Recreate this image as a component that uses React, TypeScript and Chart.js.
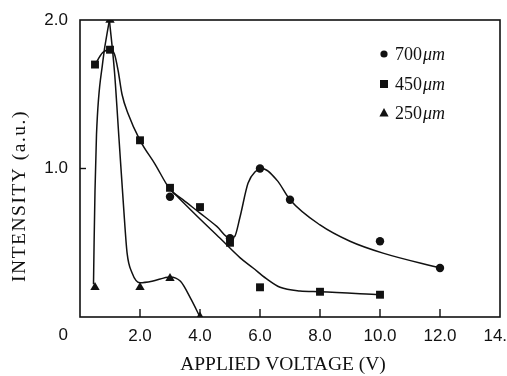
import { useEffect, useRef } from 'react';
import { Chart, registerables } from 'chart.js';

Chart.register(...registerables);

// ---------- data ----------
const xTickValues = [0, 2, 4, 6, 8, 10, 12, 14];
const yTickValues = [0, 1, 2];
const xAxisTitle = 'APPLIED VOLTAGE (V)';
const yAxisTitle = 'INTENSITY (a.u.)';
const seriesThickness = ['700', '450', '250'];
const seriesUnit = 'μm';

const voltage700 = [3, 5, 6, 7, 10, 12];
const intensity700 = [0.81, 0.53, 1.0, 0.79, 0.51, 0.33];

const voltage450 = [0.5, 1, 2, 3, 4, 5, 6, 8, 10];
const intensity450 = [1.7, 1.8, 1.19, 0.87, 0.74, 0.5, 0.2, 0.17, 0.15];

const voltage250 = [0.5, 1, 2, 3, 4];
const intensity250 = [0.2, 2.0, 0.2, 0.26, 0.0];

// hand-drawn guide curves
const guide250RiseX = [0.45, 0.47, 0.5, 0.55, 0.76, 0.98];
const guide250RiseY = [0.22, 0.5, 0.85, 1.23, 1.72, 2.0];
const guide250FallX = [0.98, 1.15, 1.3, 1.45, 1.57, 1.73, 2.0, 2.4, 3.0, 3.35, 3.7, 4.0];
const guide250FallY = [2.0, 1.65, 1.2, 0.75, 0.43, 0.3, 0.23, 0.24, 0.27, 0.24, 0.12, 0.0];

const guideUpperX = [0.5, 0.75, 1.0, 1.15, 1.27, 1.4, 1.6, 2.0, 2.5, 3.0, 3.43, 4.0, 4.56, 5.0, 5.15, 5.33, 5.6, 5.85, 6.07, 6.57, 7.0, 8.0, 9.0, 10.1, 12.0];
const guideUpperY = [1.7, 1.78, 1.8, 1.77, 1.66, 1.5, 1.37, 1.19, 1.03, 0.86, 0.79, 0.7, 0.61, 0.53, 0.54, 0.67, 0.9, 0.98, 1.0, 0.92, 0.79, 0.62, 0.51, 0.43, 0.33];

const guideLowerX = [3.0, 4.0, 4.67, 5.33, 5.77, 6.2, 6.67, 7.33, 8.0, 10.0];
const guideLowerY = [0.86, 0.66, 0.53, 0.4, 0.33, 0.26, 0.2, 0.175, 0.17, 0.15];

const zip = (xs: number[], ys: number[]) => xs.map((x, i) => ({ x, y: ys[i] }));

const SERIF = '"Liberation Serif", "DejaVu Serif", serif';
const SANS = '"Liberation Sans", Arial, sans-serif';

const decorPlugin = {
  id: 'decor',
  beforeDatasetsDraw(chart: any) {
    const { ctx, chartArea: a, scales } = chart;
    const xs = scales.x;
    const ys = scales.y;
    ctx.save();
    ctx.strokeStyle = '#111';
    ctx.lineWidth = 1.6;
    ctx.strokeRect(a.left, a.top, a.right - a.left, a.bottom - a.top);
    ctx.lineWidth = 1.4;
    // inward tick marks
    xTickValues.forEach((v) => {
      if (v === 0 || v === 14) return;
      const px = xs.getPixelForValue(v);
      ctx.beginPath();
      ctx.moveTo(px, a.bottom);
      ctx.lineTo(px, a.bottom - 8);
      ctx.stroke();
    });
    yTickValues.forEach((v) => {
      if (v === 0 || v === 2) return;
      const py = ys.getPixelForValue(v);
      ctx.beginPath();
      ctx.moveTo(a.left, py);
      ctx.lineTo(a.left + 6, py);
      ctx.stroke();
    });
    ctx.restore();
  },
  afterDraw(chart: any) {
    const { ctx, chartArea: a } = chart;
    ctx.save();
    ctx.fillStyle = '#111';
    // corner "0" label
    ctx.font = `17px ${SANS}`;
    ctx.textAlign = 'right';
    ctx.textBaseline = 'middle';
    ctx.fillText('0', a.left - 12, a.bottom + 18);

    // axis titles
    ctx.font = `19.5px ${SERIF}`;
    ctx.textAlign = 'center';
    ctx.textBaseline = 'middle';
    ctx.fillText(xAxisTitle, a.left + 203, a.bottom + 48);

    ctx.save();
    ctx.translate(a.left - 60, a.top + 176);
    ctx.rotate(-Math.PI / 2);
    (ctx as any).letterSpacing = '1.5px';
    ctx.fillText(yAxisTitle, 0, 0);
    ctx.restore();

    // legend
    const mx = a.right - 116;
    const tx = a.right - 105;
    const rows = [a.top + 34, a.top + 64, a.top + 93];
    const styles = ['circle', 'rect', 'triangle'];
    rows.forEach((cy, i) => {
      ctx.beginPath();
      if (styles[i] === 'circle') {
        ctx.arc(mx, cy, 3.6, 0, Math.PI * 2);
      } else if (styles[i] === 'rect') {
        ctx.rect(mx - 4, cy - 4, 8, 8);
      } else {
        ctx.moveTo(mx, cy - 5);
        ctx.lineTo(mx + 4.6, cy + 3.5);
        ctx.lineTo(mx - 4.6, cy + 3.5);
        ctx.closePath();
      }
      ctx.fill();
      ctx.textAlign = 'left';
      ctx.textBaseline = 'alphabetic';
      ctx.font = `18px ${SERIF}`;
      const num = seriesThickness[i];
      ctx.fillText(num, tx, cy + 6);
      const w = ctx.measureText(num).width;
      ctx.font = `italic 18px ${SERIF}`;
      ctx.fillText(seriesUnit, tx + w + 1, cy + 6);
    });
    ctx.restore();
  },
};

export default function App() {
  const ref = useRef<HTMLCanvasElement | null>(null);

  useEffect(() => {
    if (!ref.current) return;
    const markerBase = {
      showLine: false,
      backgroundColor: '#111',
      borderColor: '#111',
      borderWidth: 0,
    };
    const guideBase = {
      showLine: true,
      pointRadius: 0,
      borderColor: '#111',
      borderWidth: 1.5,
      cubicInterpolationMode: 'monotone' as const,
      fill: false,
    };
    const chart = new Chart(ref.current, {
      type: 'scatter',
      data: {
        datasets: [
          { ...markerBase, label: '700μm', data: zip(voltage700, intensity700), pointStyle: 'circle', pointRadius: 4.2 },
          { ...markerBase, label: '450μm', data: zip(voltage450, intensity450), pointStyle: 'rect', pointRadius: 5.6 },
          { ...markerBase, label: '250μm', data: zip(voltage250, intensity250), pointStyle: 'triangle', pointRadius: 5.4 },
          { ...guideBase, label: 'g1', data: zip(guide250RiseX, guide250RiseY) },
          { ...guideBase, label: 'g2', data: zip(guide250FallX, guide250FallY) },
          { ...guideBase, label: 'g3', data: zip(guideUpperX, guideUpperY) },
          { ...guideBase, label: 'g4', data: zip(guideLowerX, guideLowerY) },
        ],
      },
      options: {
        animation: false,
        responsive: false,
        devicePixelRatio: 1,
        layout: { padding: { top: 20, right: 7, left: 0, bottom: 0 } },
        plugins: { legend: { display: false }, tooltip: { enabled: false } },
        scales: {
          x: {
            type: 'linear',
            min: 0,
            max: 14,
            afterBuildTicks: (s: any) => {
              s.ticks = xTickValues.map((v) => ({ value: v }));
            },
            ticks: {
              callback: (v: any) => (Number(v) === 0 ? '' : Number(v).toFixed(1)),
              font: { family: SANS, size: 17 },
              color: '#111',
              padding: 9,
              maxRotation: 0,
              autoSkip: false,
            },
            grid: { display: false, drawTicks: false },
            border: { display: false },
            afterFit: (s: any) => {
              s.height = 59;
              s.paddingLeft = 0;
              s.paddingRight = 0;
            },
          },
          y: {
            type: 'linear',
            min: 0,
            max: 2,
            afterBuildTicks: (s: any) => {
              s.ticks = yTickValues.map((v) => ({ value: v }));
            },
            ticks: {
              callback: (v: any) => (Number(v) === 0 ? '' : Number(v).toFixed(1)),
              font: { family: SANS, size: 17 },
              color: '#111',
              padding: 12,
            },
            grid: { display: false, drawTicks: false },
            border: { display: false },
            afterFit: (s: any) => {
              s.width = 80;
              s.paddingTop = 0;
              s.paddingBottom = 0;
            },
          },
        },
      },
      plugins: [decorPlugin],
    });
    return () => chart.destroy();
  }, []);

  return (
    <div style={{ position: 'fixed', left: 0, top: 0, width: 507, height: 376, background: '#fff' }}>
      <canvas ref={ref} width={507} height={376} style={{ width: 507, height: 376, display: 'block' }} />
    </div>
  );
}
